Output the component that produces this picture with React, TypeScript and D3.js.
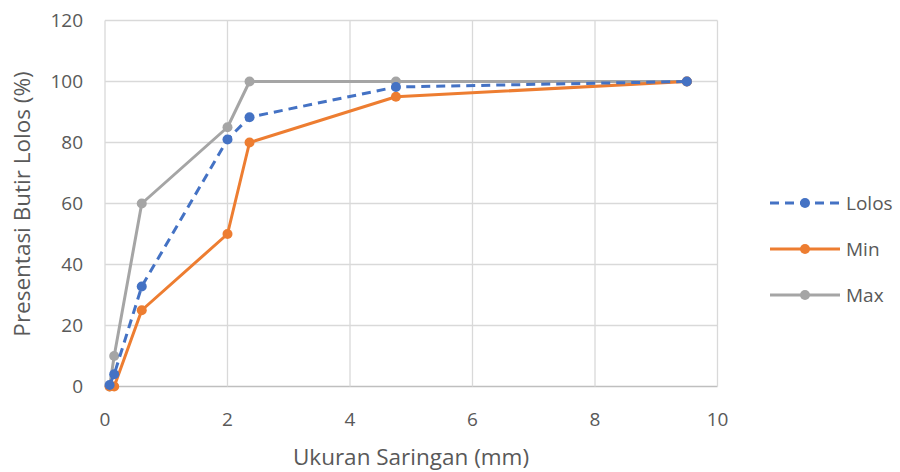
import * as d3 from "d3";

// Sieve sizes (mm) and passing percentages
const lolosX = [0.075, 0.15, 0.6, 2.0, 2.36, 4.75, 9.5];
const lolosY = [0.5, 4, 32.8, 81, 88.3, 98.2, 100];
const minX = [0.075, 0.15, 0.6, 2.0, 2.36, 4.75, 9.5];
const minY = [0, 0, 25, 50, 80, 95, 100];
const maxX = [0.075, 0.15, 0.6, 2.0, 2.36, 4.75, 9.5];
const maxY = [0, 10, 60, 85, 100, 100, 100];

const xTicks = [0, 2, 4, 6, 8, 10];
const yTicks = [0, 20, 40, 60, 80, 100, 120];

const series = [
  { name: "Lolos", xs: lolosX, ys: lolosY, color: "#4472C4", dash: "9,6" },
  { name: "Min", xs: minX, ys: minY, color: "#ED7D31", dash: null },
  { name: "Max", xs: maxX, ys: maxY, color: "#A5A5A5", dash: null },
];

const W = 900;
const H = 472;
const FONT = "'Open Sans', Lato, sans-serif";
const TEXT = "#595959";

export default function App() {
  const x = d3.scaleLinear().domain([0, 10]).range([105, 717.5]);
  const y = d3.scaleLinear().domain([0, 120]).range([386.5, 20.5]);

  // draw order: Max under, then Min, then Lolos on top
  const drawOrder = [series[2], series[1], series[0]];

  return (
    <svg
      width={W}
      height={H}
      style={{ position: "absolute", left: 0, top: 0, background: "#fff" }}
      fontFamily={FONT}
    >
      {/* grid */}
      {yTicks.map((t) => (
        <line
          key={"gy" + t}
          x1={x(0)}
          x2={x(10)}
          y1={y(t)}
          y2={y(t)}
          stroke={t === 0 ? "#BFBFBF" : "#D9D9D9"}
          strokeWidth={1.3}
        />
      ))}
      {xTicks.map((t) => (
        <line
          key={"gx" + t}
          x1={x(t)}
          x2={x(t)}
          y1={y(0)}
          y2={y(120)}
          stroke="#D9D9D9"
          strokeWidth={1.3}
        />
      ))}

      {/* tick labels */}
      {yTicks.map((t) => (
        <text
          key={"ly" + t}
          x={83}
          y={y(t)}
          dy="0.36em"
          textAnchor="end"
          fontSize={19}
          fill={TEXT}
        >
          {t}
        </text>
      ))}
      {xTicks.map((t) => (
        <text
          key={"lx" + t}
          x={x(t)}
          y={426}
          textAnchor="middle"
          fontSize={19}
          fill={TEXT}
        >
          {t}
        </text>
      ))}

      {/* axis titles */}
      <text x={411} y={465} textAnchor="middle" fontSize={22.5} fill={TEXT}>
        Ukuran Saringan (mm)
      </text>
      <text
        transform={`translate(30,204) rotate(-90)`}
        textAnchor="middle"
        fontSize={22.5}
        fill={TEXT}
      >
        Presentasi Butir Lolos (%)
      </text>

      {/* series */}
      {drawOrder.map((s) => {
        const pts: [number, number][] = s.xs.map((v, i) => [v, s.ys[i]]);
        const line = d3
          .line<[number, number]>()
          .x((d) => x(d[0]))
          .y((d) => y(d[1]));
        return (
          <g key={s.name}>
            <path
              d={line(pts) ?? ""}
              fill="none"
              stroke={s.color}
              strokeWidth={3}
              strokeDasharray={s.dash ?? undefined}
              strokeLinejoin="round"
            />
            {pts.map((d, i) => (
              <circle key={i} cx={x(d[0])} cy={y(d[1])} r={5} fill={s.color} />
            ))}
          </g>
        );
      })}

      {/* legend */}
      {series.map((s, i) => {
        const ly = 203 + i * 46;
        return (
          <g key={"lg" + s.name}>
            <line
              x1={770}
              x2={840}
              y1={ly}
              y2={ly}
              stroke={s.color}
              strokeWidth={3}
              strokeDasharray={s.dash ?? undefined}
            />
            <circle cx={805} cy={ly} r={5} fill={s.color} />
            <text x={846} y={ly} dy="0.36em" fontSize={19} fill={TEXT}>
              {s.name}
            </text>
          </g>
        );
      })}
    </svg>
  );
}
